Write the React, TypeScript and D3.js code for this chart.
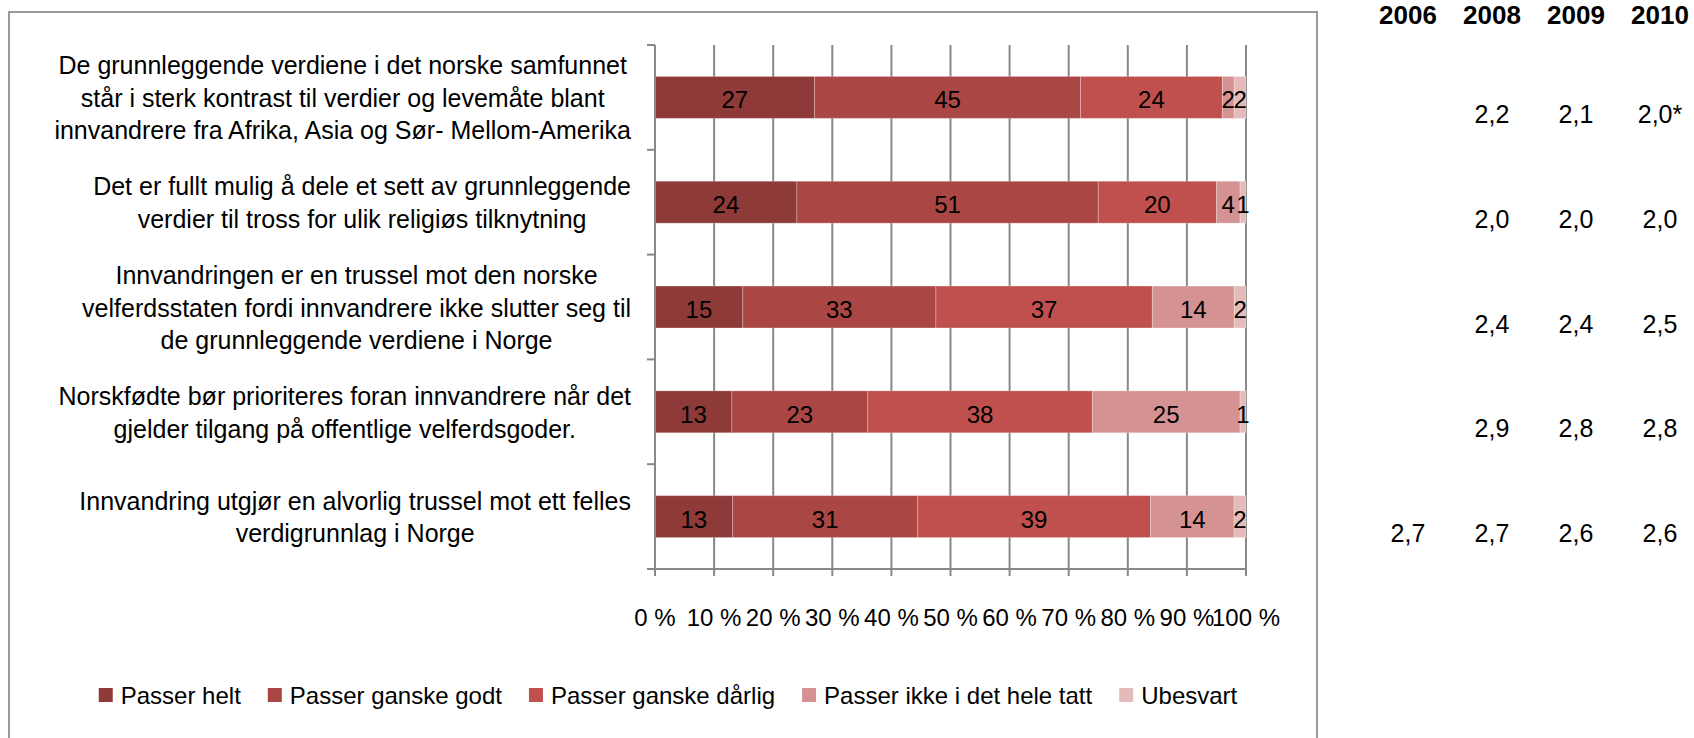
import { useEffect, useRef } from "react"
import * as d3 from "d3"

// statements, already broken into lines as in the original
const categories: string[][] = [
  [
    "De grunnleggende verdiene i det norske samfunnet",
    "står i sterk kontrast til verdier og levemåte blant",
    "innvandrere fra Afrika, Asia og Sør- Mellom-Amerika",
  ],
  ["Det er fullt mulig å dele et sett av grunnleggende", "verdier til tross for ulik religiøs tilknytning"],
  [
    "Innvandringen er en trussel mot den norske",
    "velferdsstaten fordi innvandrere ikke slutter seg til",
    "de grunnleggende verdiene i Norge",
  ],
  ["Norskfødte bør prioriteres foran innvandrere når det", "gjelder tilgang på offentlige velferdsgoder."],
  ["Innvandring utgjør en alvorlig trussel mot ett felles", "verdigrunnlag i Norge"],
]

const seriesNames = [
  "Passer helt",
  "Passer ganske godt",
  "Passer ganske dårlig",
  "Passer ikke i det hele tatt",
  "Ubesvart",
]
const seriesColors = ["#8e3a38", "#aa4644", "#c0504d", "#d49392", "#e5bbba"]

const passerHelt = [27, 24, 15, 13, 13]
const passerGanskeGodt = [45, 51, 33, 23, 31]
const passerGanskeDarlig = [24, 20, 37, 38, 39]
const passerIkke = [2, 4, 14, 25, 14]
const ubesvart = [2, 1, 2, 1, 2]

const xTicks = [0, 10, 20, 30, 40, 50, 60, 70, 80, 90, 100]

// mean scores per year, one entry per statement
const years = ["2006", "2008", "2009", "2010"]
const mean2006 = ["", "", "", "", "2,7"]
const mean2008 = ["2,2", "2,0", "2,4", "2,9", "2,7"]
const mean2009 = ["2,1", "2,0", "2,4", "2,8", "2,6"]
const mean2010 = ["2,0*", "2,0", "2,5", "2,8", "2,6"]

type Row = { [k: string]: number }

export default function App() {
  const svgRef = useRef<SVGSVGElement>(null)

  useEffect(() => {
    if (!svgRef.current) return
    const svg = d3.select(svgRef.current)
    svg.selectAll("*").remove()
    const font = "'Liberation Sans', Arial, sans-serif"
    const grid = "#888888"

    const rows: Row[] = categories.map((_, i) => ({
      [seriesNames[0]]: passerHelt[i],
      [seriesNames[1]]: passerGanskeGodt[i],
      [seriesNames[2]]: passerGanskeDarlig[i],
      [seriesNames[3]]: passerIkke[i],
      [seriesNames[4]]: ubesvart[i],
    }))

    // chart frame (runs past the bottom of the picture)
    svg
      .append("rect")
      .attr("x", 9)
      .attr("y", 12)
      .attr("width", 1308)
      .attr("height", 780)
      .attr("fill", "#fff")
      .attr("stroke", "#9a9a9a")
      .attr("stroke-width", 2)

    const x = d3.scaleLinear().domain([0, 1]).range([655, 1246])
    const y = d3
      .scaleBand<number>()
      .domain(d3.range(categories.length))
      .range([45, 569])
      .paddingInner(0.6)
      .paddingOuter(0.3)
    const step = y.step()
    const [top, bottom] = y.range()
    const center = (i: number) => (y(i) as number) + y.bandwidth() / 2

    // gridlines
    svg
      .append("g")
      .selectAll("line")
      .data(xTicks.slice(1))
      .enter()
      .append("line")
      .attr("x1", (d) => x(d / 100))
      .attr("x2", (d) => x(d / 100))
      .attr("y1", top)
      .attr("y2", bottom)
      .style("stroke", grid)
      .style("stroke-width", 2)

    // bars
    const stack = d3.stack<Row>().keys(seriesNames).offset(d3.stackOffsetExpand)
    const layers = stack(rows)

    const layerG = svg
      .append("g")
      .selectAll("g")
      .data(layers)
      .enter()
      .append("g")
      .style("fill", (_, i) => seriesColors[i])

    layerG
      .selectAll("rect")
      .data((d) => d.map((s, i) => ({ s, i })))
      .enter()
      .append("rect")
      .attr("x", (d) => x(d.s[0]))
      .attr("y", (d) => y(d.i) as number)
      .attr("width", (d) => x(d.s[1]) - x(d.s[0]))
      .attr("height", y.bandwidth())
      .style("stroke", "#ffffff")
      .style("stroke-opacity", 0.25)
      .style("stroke-width", 1)

    // data labels
    layers.forEach((layer) => {
      svg
        .append("g")
        .selectAll("text")
        .data(layer.map((s, i) => ({ s, i, v: rows[i][layer.key] })))
        .enter()
        .append("text")
        .attr("x", (d) => (x(d.s[0]) + x(d.s[1])) / 2)
        .attr("y", (d) => center(d.i) + 11)
        .attr("text-anchor", "middle")
        .style("font-family", font)
        .style("font-size", "24px")
        .style("fill", "#000")
        .text((d) => d.v)
    })

    // axes
    svg
      .append("line")
      .attr("x1", x(0))
      .attr("x2", x(0))
      .attr("y1", top)
      .attr("y2", bottom)
      .style("stroke", grid)
      .style("stroke-width", 2)
    svg
      .append("line")
      .attr("x1", x(0))
      .attr("x2", x(1))
      .attr("y1", bottom)
      .attr("y2", bottom)
      .style("stroke", grid)
      .style("stroke-width", 2)

    svg
      .append("g")
      .selectAll("line")
      .data(d3.range(categories.length + 1))
      .enter()
      .append("line")
      .attr("x1", x(0) - 8)
      .attr("x2", x(0))
      .attr("y1", (d) => top + d * step)
      .attr("y2", (d) => top + d * step)
      .style("stroke", grid)
      .style("stroke-width", 2)

    svg
      .append("g")
      .selectAll("line")
      .data(xTicks)
      .enter()
      .append("line")
      .attr("x1", (d) => x(d / 100))
      .attr("x2", (d) => x(d / 100))
      .attr("y1", bottom)
      .attr("y2", bottom + 7)
      .style("stroke", grid)
      .style("stroke-width", 2)

    svg
      .append("g")
      .selectAll("text")
      .data(xTicks)
      .enter()
      .append("text")
      .attr("x", (d) => x(d / 100))
      .attr("y", bottom + 57)
      .attr("text-anchor", "middle")
      .style("font-family", font)
      .style("font-size", "24px")
      .style("fill", "#000")
      .text((d) => `${d} %`)

    // category labels: block right-aligned, lines centred within it
    const labelRight = 631
    const lineH = 32.5
    categories.forEach((lines, i) => {
      const g = svg.append("g")
      const texts = g
        .selectAll("text")
        .data(lines)
        .enter()
        .append("text")
        .attr("y", (_, j) => center(i) + 9.5 + (j - (lines.length - 1) / 2) * lineH)
        .attr("text-anchor", "middle")
        .style("font-family", font)
        .style("font-size", "25px")
        .style("fill", "#000")
        .text((d) => d)
      let maxW = 0
      texts.each(function () {
        maxW = Math.max(maxW, (this as SVGTextElement).getComputedTextLength())
      })
      texts.attr("x", labelRight - maxW / 2)
    })

    // legend
    const legend = svg.append("g")
    const itemGap = 27
    let lx = 0
    seriesNames.forEach((name, i) => {
      legend
        .append("rect")
        .attr("x", lx)
        .attr("y", 688)
        .attr("width", 14)
        .attr("height", 14)
        .style("fill", seriesColors[i])
      const t = legend
        .append("text")
        .attr("x", lx + 22)
        .attr("y", 704)
        .style("font-family", font)
        .style("font-size", "24px")
        .style("fill", "#000")
        .text(name)
      lx += 22 + (t.node() as SVGTextElement).getComputedTextLength() + itemGap
    })
    const legendW = lx - itemGap
    legend.attr("transform", `translate(${668 - legendW / 2},0)`)

    // mean-score table on the right
    const col = d3.scalePoint<string>().domain(years).range([1408, 1660])
    const means = [mean2006, mean2008, mean2009, mean2010]

    svg
      .append("g")
      .selectAll("text")
      .data(years)
      .enter()
      .append("text")
      .attr("x", (d) => col(d) as number)
      .attr("y", 24)
      .attr("text-anchor", "middle")
      .style("font-family", font)
      .style("font-size", "26px")
      .style("font-weight", "bold")
      .style("fill", "#000")
      .text((d) => d)

    means.forEach((vals, k) => {
      svg
        .append("g")
        .selectAll("text")
        .data(vals)
        .enter()
        .append("text")
        .attr("x", col(years[k]) as number)
        .attr("y", (_, i) => center(i) + 25.6)
        .attr("text-anchor", "middle")
        .style("font-family", font)
        .style("font-size", "25px")
        .style("fill", "#000")
        .text((d) => d)
    })
  }, [])

  return (
    <svg
      ref={svgRef}
      width={1694}
      height={738}
      style={{ position: "absolute", left: 0, top: 0, background: "#fff" }}
    />
  )
}
